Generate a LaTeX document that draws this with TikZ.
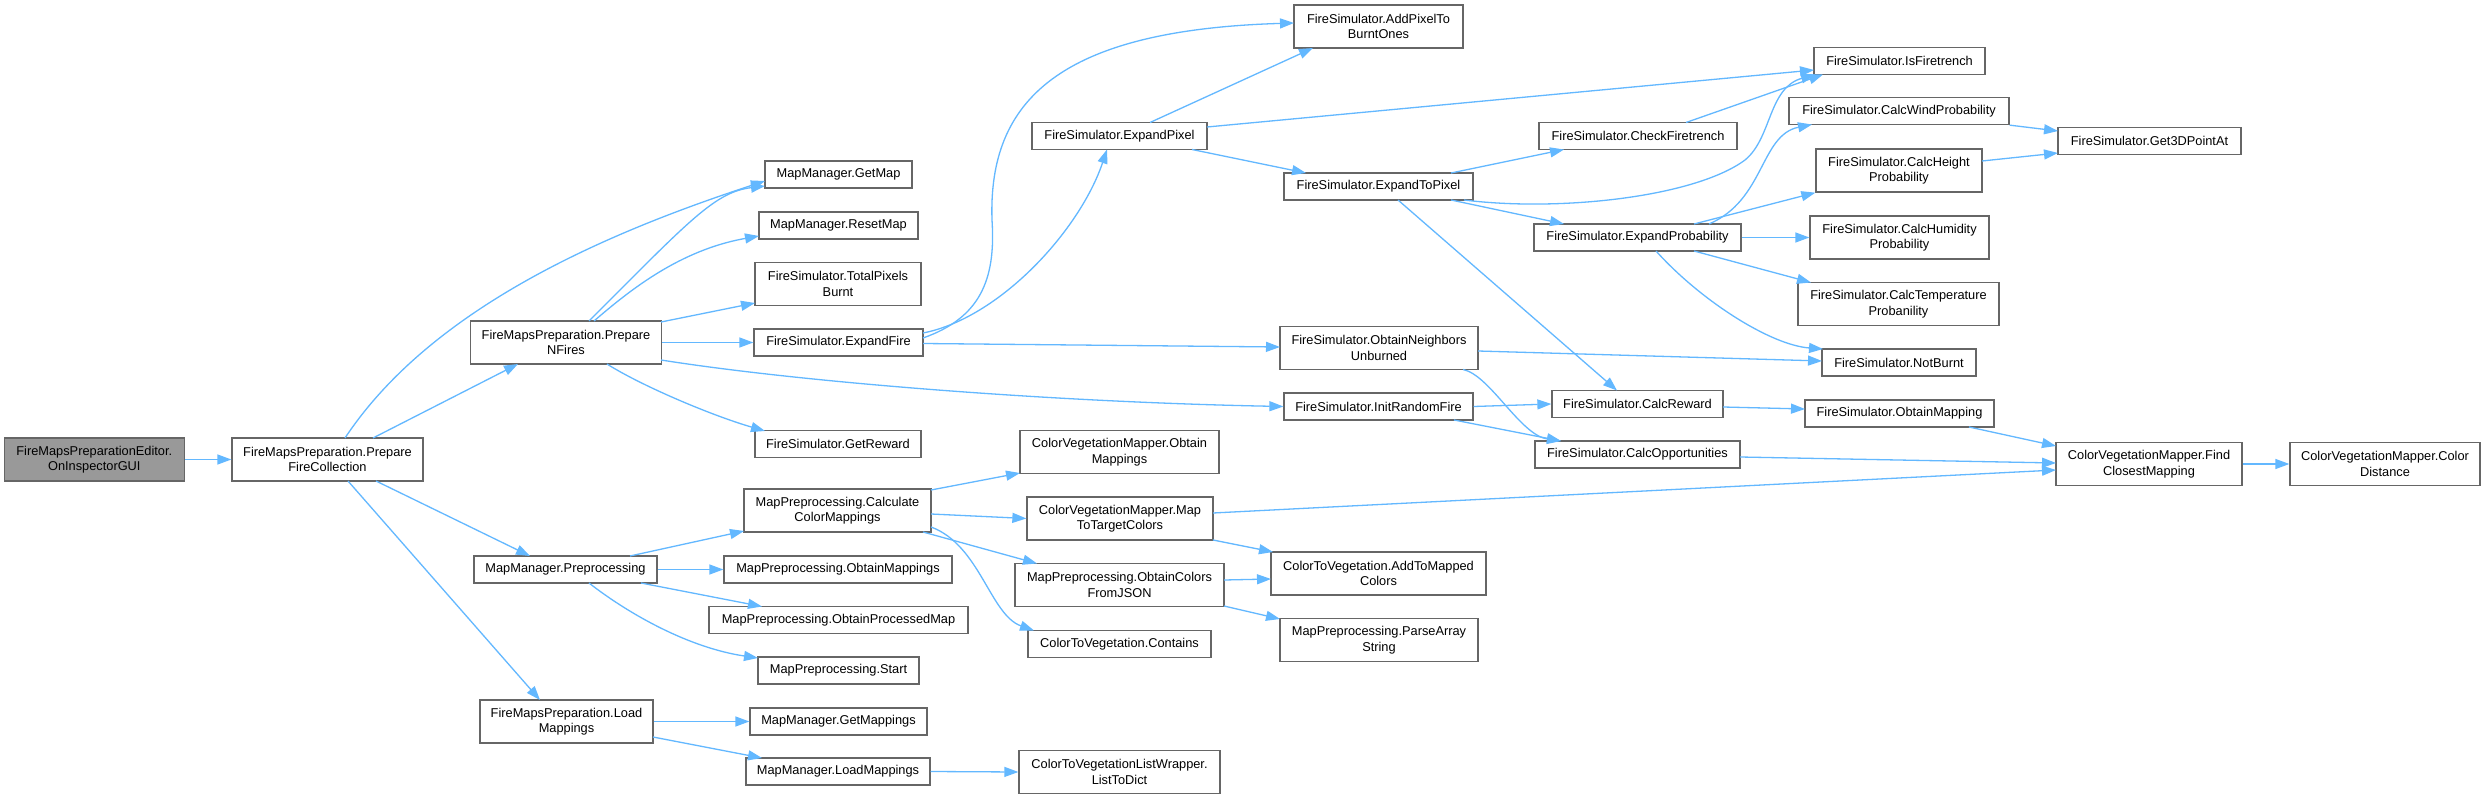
\documentclass[tikz,border=0pt]{standalone}
\usepackage{fontspec}
\setmainfont{Liberation Sans}
\usetikzlibrary{arrows.meta,calc}
\definecolor{edgeblue}{HTML}{63B8FF}
\definecolor{boxborder}{HTML}{666666}
\definecolor{rootfill}{HTML}{999999}
\begin{document}
\begin{tikzpicture}[x=1pt,y=-1pt,
  box/.style={draw=boxborder, line width=1.3pt, fill=white, rectangle, inner sep=0pt, align=center, font=\fontsize{12.8}{15.5}\selectfont},
  one/.style={box, minimum height=27pt},
  two/.style={box, minimum height=43pt},
  conn/.style={draw=edgeblue, line width=1.3pt, -{Triangle[length=14pt,width=10pt]}}]
\useasboundingbox (0,0) rectangle (2486,799);
\fill[white] (0,0) rectangle (2486,799);

% column 1-2
\node[two, fill=rootfill, minimum width=180pt] (root) at (94.3,459.5) {FireMapsPreparationEditor.\\OnInspectorGUI};
\node[two, minimum width=191pt] (pfc) at (327.5,459.5) {FireMapsPreparation.Prepare\\FireCollection};
% column 3
\node[two, minimum width=191pt] (pnf) at (566,342.5) {FireMapsPreparation.Prepare\\NFires};
\node[one, minimum width=183pt] (preproc) at (565.5,569.5) {MapManager.Preprocessing};
\node[two, minimum width=173pt] (loadmap) at (566.5,721.5) {FireMapsPreparation.Load\\Mappings};
% column 4
\node[one, minimum width=147pt] (getmap) at (838.5,174.5) {MapManager.GetMap};
\node[one, minimum width=159pt] (resetmap) at (838.5,225.5) {MapManager.ResetMap};
\node[two, minimum width=166pt] (totalpix) at (838,284) {FireSimulator.TotalPixels\\Burnt};
\node[one, minimum width=169pt] (expandfire) at (838.5,342.5) {FireSimulator.ExpandFire};
\node[one, minimum width=166pt] (getreward) at (838,444) {FireSimulator.GetReward};
\node[two, minimum width=187pt] (calccolor) at (837.5,510.5) {MapPreprocessing.Calculate\\ColorMappings};
\node[one, minimum width=228pt] (mpobtain) at (838,569.5) {MapPreprocessing.ObtainMappings};
\node[one, minimum width=259pt] (procmap) at (838.5,620) {MapPreprocessing.ObtainProcessedMap};
\node[one, minimum width=161pt] (mpstart) at (838.5,670.5) {MapPreprocessing.Start};
\node[one, minimum width=177pt] (getmappings) at (838.5,721.5) {MapManager.GetMappings};
\node[one, minimum width=184pt] (mmload) at (838,771.5) {MapManager.LoadMappings};
% column 5
\node[one, minimum width=175pt] (expandpixel) at (1119.5,136) {FireSimulator.ExpandPixel};
\node[two, minimum width=199pt] (cvmobtain) at (1119.5,452) {ColorVegetationMapper.Obtain\\Mappings};
\node[two, minimum width=186pt] (maptotarget) at (1120,518.5) {ColorVegetationMapper.Map\\ToTargetColors};
\node[two, minimum width=209pt] (obtaincolors) at (1119.5,585) {MapPreprocessing.ObtainColors\\FromJSON};
\node[one, minimum width=183pt] (contains) at (1119.5,644) {ColorToVegetation.Contains};
\node[two, minimum width=201pt] (listtodict) at (1119.5,772) {ColorToVegetationListWrapper.\\ListToDict};
% column 6
\node[two, minimum width=169pt] (addpixel) at (1378.5,26.5) {FireSimulator.AddPixelTo\\BurntOnes};
\node[one, minimum width=189pt] (expandtopixel) at (1378.5,186.5) {FireSimulator.ExpandToPixel};
\node[two, minimum width=198pt] (neighbors) at (1379,348) {FireSimulator.ObtainNeighbors\\Unburned};
\node[one, minimum width=189pt] (initrandom) at (1378.5,406.5) {FireSimulator.InitRandomFire};
\node[two, minimum width=215pt] (addtomapped) at (1378.5,573.5) {ColorToVegetation.AddToMapped\\Colors};
\node[two, minimum width=198pt] (parsearray) at (1379,640) {MapPreprocessing.ParseArray\\String};
% column 7
\node[one, minimum width=198pt] (checkfire) at (1638,136) {FireSimulator.CheckFiretrench};
\node[one, minimum width=207pt] (expandprob) at (1637.5,237.5) {FireSimulator.ExpandProbability};
\node[one, minimum width=171pt] (calcreward) at (1637.5,404) {FireSimulator.CalcReward};
\node[one, minimum width=205pt] (calcopp) at (1637.5,454.5) {FireSimulator.CalcOpportunities};
% column 8
\node[one, minimum width=171pt] (isfire) at (1899.5,61) {FireSimulator.IsFiretrench};
\node[one, minimum width=220pt] (calcwind) at (1899,111) {FireSimulator.CalcWindProbability};
\node[two, minimum width=166pt] (calcheight) at (1899,170.5) {FireSimulator.CalcHeight\\Probability};
\node[two, minimum width=179pt] (calchum) at (1899.5,237.5) {FireSimulator.CalcHumidity\\Probability};
\node[two, minimum width=201pt] (calctemp) at (1898.5,304) {FireSimulator.CalcTemperature\\Probanility};
\node[one, minimum width=154pt] (notburnt) at (1899,362.5) {FireSimulator.NotBurnt};
\node[one, minimum width=189pt] (obtainmapping) at (1899.5,413.5) {FireSimulator.ObtainMapping};
% column 9-10
\node[one, minimum width=183pt] (get3d) at (2149.5,141) {FireSimulator.Get3DPointAt};
\node[two, minimum width=186pt] (findclosest) at (2149,464) {ColorVegetationMapper.Find\\ClosestMapping};
\node[two, minimum width=190pt] (colordist) at (2385,464) {ColorVegetationMapper.Color\\Distance};

% edges
\draw[conn] (root.east) -- (pfc.west);
\draw[conn] ($(pfc)+(45.5,-21.5)$) -- ($(pnf)+(-48,21.5)$);
\draw[conn] ($(pfc)+(17.5,-21.5)$) .. controls (430,310) and (600,235) .. ($(getmap)+(-73.5,6.5)$);
\draw[conn] ($(pfc)+(48.5,21.5)$) -- ($(preproc)+(-35.5,-13.5)$);
\draw[conn] ($(pfc)+(20.5,21.5)$) -- ($(loadmap)+(-26.5,-21.5)$);
\draw[conn] ($(pnf)+(23,-21.5)$) .. controls (690,220) and (715,192) .. ($(getmap)+(-73.5,11.5)$);
\draw[conn] ($(pnf)+(28,-21.5)$) .. controls (630,290) and (680,250) .. ($(resetmap)+(-79.5,10.5)$);
\draw[conn] ($(pnf)+(95,-20.5)$) -- ($(totalpix)+(-83,19)$);
\draw[conn] (pnf.east) -- (expandfire.west);
\draw[conn] ($(pnf)+(95,17.5)$) .. controls (800,382) and (1050,402) .. (initrandom.west);
\draw[conn] ($(pnf)+(41,21.5)$) .. controls (640,385) and (710,415) .. ($(getreward)+(-73,-13)$);
\draw[conn] ($(expandfire)+(84.5,-4.5)$) .. controls (980,318) and (996,280) .. (992,220) .. controls (988,100) and (1060,30) .. ($(addpixel)+(-84.5,-3.5)$);
\draw[conn] ($(expandfire)+(84.5,-9.5)$) .. controls (1000,318) and (1080,230) .. ($(expandpixel)+(-12.5,13.5)$);
\draw[conn] ($(expandfire)+(84.5,1)$) -- ($(neighbors)+(-99,-1)$);
\draw[conn] ($(expandpixel)+(30.5,-13.5)$) -- ($(addpixel)+(-65.5,21.5)$);
\draw[conn] ($(expandpixel)+(87.5,-9)$) -- ($(isfire)+(-85.5,9)$);
\draw[conn] ($(expandpixel)+(72.5,13.5)$) -- ($(expandtopixel)+(-72.5,-13.5)$);
\draw[conn] ($(expandtopixel)+(72.5,-13.5)$) -- ($(checkfire)+(-74,13.5)$);
\draw[conn] ($(expandtopixel)+(85.5,13.5)$) .. controls (1560,212) and (1695,197) .. (1745,160) .. controls (1772,138) and (1768,88) .. ($(isfire)+(-84.5,13.5)$);
\draw[conn] ($(expandtopixel)+(72.5,13.5)$) -- ($(expandprob)+(-73.5,-13.5)$);
\draw[conn] ($(expandtopixel)+(19.5,13.5)$) -- ($(calcreward)+(-20.5,-13.5)$);
\draw[conn] ($(checkfire)+(48,-13.5)$) -- ($(isfire)+(-76.5,13.5)$);
\draw[conn] ($(expandprob)+(71.5,-13.5)$) .. controls (1765,200) and (1760,135) .. ($(calcwind)+(-87,13.5)$);
\draw[conn] ($(expandprob)+(56.5,-13.5)$) -- (calcheight.south west);
\draw[conn] (expandprob.east) -- (calchum.west);
\draw[conn] ($(expandprob)+(56.5,13.5)$) -- ($(calctemp)+(-87.5,-21.5)$);
\draw[conn] ($(expandprob)+(18.5,13.5)$) .. controls (1700,300) and (1770,345) .. ($(notburnt)+(-76,-13.5)$);
\draw[conn] ($(neighbors)+(99,3)$) -- ($(notburnt)+(-77,-1.5)$);
\draw[conn] ($(neighbors)+(84,21.5)$) .. controls (1490,375) and (1520,435) .. ($(calcopp)+(-76.5,-13.5)$);
\draw[conn] (calcwind.south east) -- ($(get3d)+(-91.5,-10)$);
\draw[conn] ($(calcheight)+(83,-9.5)$) -- ($(get3d)+(-91.5,12)$);
\draw[conn] (initrandom.east) -- (calcreward.west);
\draw[conn] ($(initrandom)+(75.5,13.5)$) -- ($(calcopp)+(-76.5,-13.5)$);
\draw[conn] ($(calcreward)+(85.5,3)$) -- ($(obtainmapping)+(-94.5,-4.5)$);
\draw[conn] ($(obtainmapping)+(69.5,13.5)$) -- ($(findclosest)+(-93,-18)$);
\draw[conn] ($(calcopp)+(102.5,2.5)$) -- ($(findclosest)+(-93,-1)$);
\draw[conn] ($(maptotarget)+(93,-5.5)$) -- ($(findclosest)+(-93,6)$);
\draw[conn] (findclosest.east) -- (colordist.west);
\draw[conn] ($(preproc)+(64.5,-13.5)$) -- ($(calccolor)+(-93.5,20.5)$);
\draw[conn] (preproc.east) -- (mpobtain.west);
\draw[conn] ($(preproc)+(75.5,13.5)$) -- ($(procmap)+(-76.5,-13.5)$);
\draw[conn] ($(preproc)+(23.5,13.5)$) .. controls (630,615) and (690,648) .. ($(mpstart)+(-80.5,-12.5)$);
\draw[conn] ($(calccolor)+(93.5,-20.5)$) -- ($(cvmobtain)+(-99.5,21)$);
\draw[conn] ($(calccolor)+(93.5,3.5)$) -- (maptotarget.west);
\draw[conn] ($(calccolor)+(85.5,21.5)$) -- ($(obtaincolors)+(-82.5,-21.5)$);
\draw[conn] ($(calccolor)+(93.5,16.5)$) .. controls (980,545) and (990,615) .. ($(contains)+(-85.5,-13.5)$);
\draw[conn] ($(maptotarget)+(93,21.5)$) -- ($(addtomapped)+(-105.5,-21.5)$);
\draw[conn] ($(obtaincolors)+(104.5,-5)$) -- ($(addtomapped)+(-107.5,5.5)$);
\draw[conn] ($(obtaincolors)+(104.5,21)$) -- ($(parsearray)+(-99,-21)$);
\draw[conn] (loadmap.east) -- (getmappings.west);
\draw[conn] ($(loadmap)+(86.5,15.5)$) -- ($(mmload)+(-76,-13.5)$);
\draw[conn] (mmload.east) -- (listtodict.west);
\end{tikzpicture}
\end{document}
